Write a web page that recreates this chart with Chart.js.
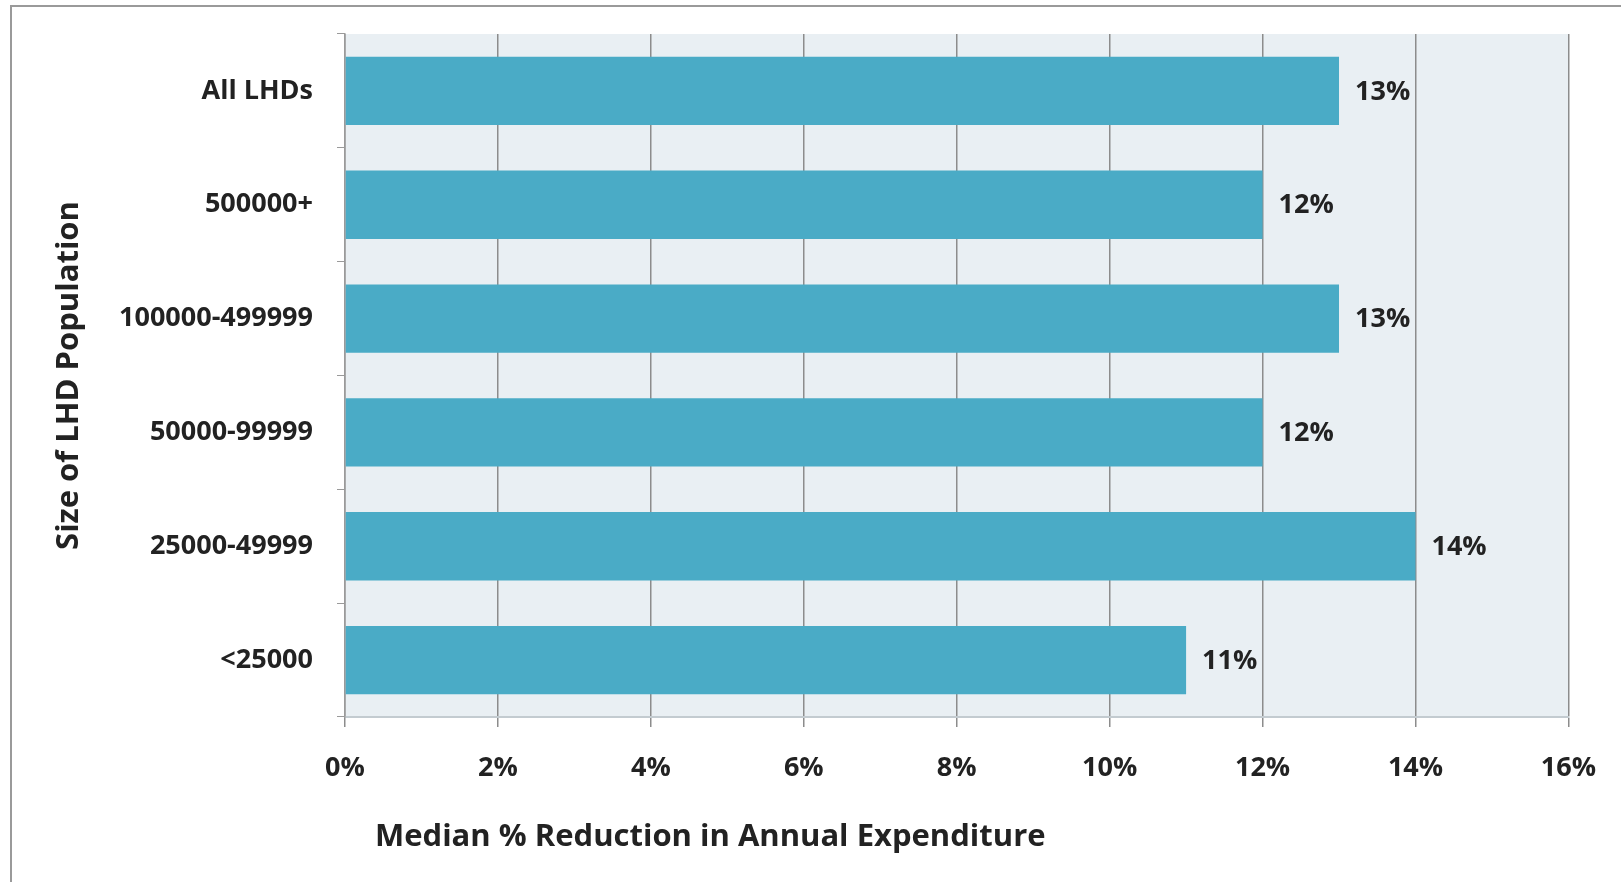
<!DOCTYPE html>
<html>
<head>
<meta charset="utf-8">
<script src="https://cdn.jsdelivr.net/npm/chart.js@4/dist/chart.umd.min.js"></script>
<style>
  html, body { margin: 0; padding: 0; background: #fff; overflow: hidden; }
  #wrap { position: relative; width: 1621px; height: 882px; }
  #frame { position: absolute; left: 10px; top: 5px; width: 1700px; height: 1000px; border: 2px solid #9a9a9a; box-sizing: border-box; }
  canvas { position: absolute; left: 0; top: 0; }
</style>
</head>
<body>
<div id="wrap">
  <div id="frame"></div>
  <canvas id="chart" width="1621" height="882"></canvas>
</div>
<script>
// data
const categories = ['All LHDs', '500000+', '100000-499999', '50000-99999', '25000-49999', '<25000'];
const reductionPct = [13, 12, 13, 12, 14, 11];
const xTicks = [0, 2, 4, 6, 8, 10, 12, 14, 16];
const xTitle = 'Median % Reduction in Annual Expenditure';
const yTitle = 'Size of LHD Population';

const FONT = '"Open Sans", "Liberation Sans", sans-serif';

// plot background
const plotBg = {
    id: 'plotBg',
    beforeDraw(chart) {
        const {ctx, chartArea: a} = chart;
        ctx.save();
        ctx.fillStyle = '#e9eff3';
        ctx.fillRect(a.left, a.top, a.right - a.left, a.bottom - a.top);
        ctx.restore();
    }
};

// value labels at bar ends + x axis title
const barLabels = {
    id: 'barLabels',
    afterDatasetsDraw(chart) {
        const {ctx} = chart;
        const meta = chart.getDatasetMeta(0);
        ctx.save();
        ctx.font = `bold 27px ${FONT}`;
        ctx.fillStyle = '#222';
        ctx.textAlign = 'left';
        ctx.textBaseline = 'middle';
        meta.data.forEach((bar, i) => {
            ctx.fillText(reductionPct[i] + '%', bar.x + 16, bar.y + 1);
        });
        // x title sits a bit right of plot start, like the original
        ctx.font = `bold 31px ${FONT}`;
        ctx.fillText(xTitle, chart.chartArea.left + 30, 837);
        ctx.restore();
    }
};

new Chart(document.getElementById('chart'), {
    type: 'bar',
    data: {
        labels: categories,
        datasets: [{
            data: reductionPct,
            backgroundColor: '#4aabc6',
            borderWidth: 0,
            barPercentage: 0.6,
            categoryPercentage: 1
        }]
    },
    options: {
        indexAxis: 'y',
        responsive: false,
        animation: false,
        layout: { padding: { left: 0, right: 51, top: 34, bottom: 0 } },
        plugins: { legend: { display: false }, tooltip: { enabled: false } },
        scales: {
            x: {
                min: 0, max: 16,
                afterBuildTicks: s => { s.ticks = xTicks.map(v => ({ value: v })); },
                afterFit: s => { s.height = 165; },
                ticks: {
                    callback: v => v + '%',
                    color: '#222',
                    font: { family: FONT, size: 27, weight: 'bold' },
                    padding: 25,
                    maxRotation: 0
                },
                grid: { color: '#8c8c8c', lineWidth: 1.5, tickLength: 10 },
                border: { color: '#c3cbd0', width: 2 },
                title: { display: false }
            },
            y: {
                afterFit: s => { s.width = 345; s.paddingTop = 0; s.paddingBottom = 0; },
                ticks: {
                    color: '#222',
                    font: { family: FONT, size: 27, weight: 'bold' },
                    padding: 24
                },
                grid: { drawOnChartArea: false, color: '#9a9a9a', tickLength: 8 },
                border: { color: '#9a9a9a', width: 1.5 },
                title: {
                    display: true,
                    text: yTitle,
                    color: '#222',
                    font: { family: FONT, size: 31, weight: 'bold' },
                    padding: { top: 51, bottom: 0 }
                }
            }
        }
    },
    plugins: [plotBg, barLabels]
});
</script>
</body>
</html>
